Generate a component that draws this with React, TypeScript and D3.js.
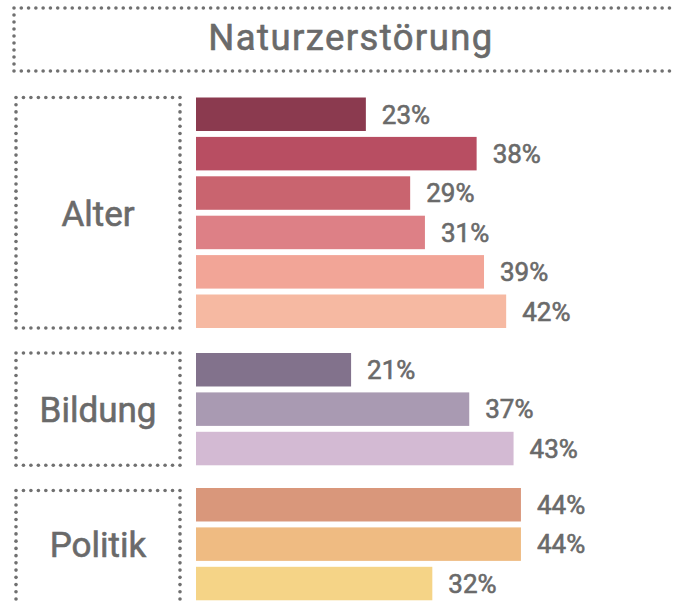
import React from "react";
import * as d3 from "d3";

const title = "Naturzerstörung";
const groups = ["Alter", "Bildung", "Politik"];
const alterValues = [23, 38, 29, 31, 39, 42];
const bildungValues = [21, 37, 43];
const politikValues = [44, 44, 32];
const alterColors = ["#8b3a4f", "#b84e62", "#c9646f", "#dd8086", "#f2a597", "#f6b9a2"];
const bildungColors = ["#82728c", "#a99ab2", "#d3bad3"];
const politikColors = ["#d9977b", "#efbb82", "#f5d487"];

const W = 674;
const H = 601;
const TEXT = "#6a6a6a";
const DOT = "#707070";
const FONT = "Roboto, 'Liberation Sans', sans-serif";
const GAP = 7.3;

function dotsAlong(a: number, b: number) {
  const n = Math.max(1, Math.round((b - a) / GAP));
  return d3.range(n + 1).map((i) => a + ((b - a) * i) / n);
}

function DottedRect({ x0, y0, x1, y1 }: { x0: number; y0: number; x1: number; y1: number }) {
  const xs = dotsAlong(x0, x1);
  const ys = dotsAlong(y0, y1);
  const pts: [number, number][] = [];
  xs.forEach((x) => {
    pts.push([x, y0]);
    pts.push([x, y1]);
  });
  ys.slice(1, -1).forEach((y) => {
    pts.push([x0, y]);
    pts.push([x1, y]);
  });
  return (
    <g>
      {pts.map(([cx, cy], i) => (
        <circle key={i} cx={cx} cy={cy} r={1.8} fill={DOT} />
      ))}
    </g>
  );
}

export default function App() {
  const x = d3.scaleLinear().domain([0, 50]).range([196, 196 + 369.25]);
  const groupData = [
    { name: groups[0], values: alterValues, colors: alterColors, top: 97.5 },
    { name: groups[1], values: bildungValues, colors: bildungColors, top: 353 },
    { name: groups[2], values: politikValues, colors: politikColors, top: 488 },
  ];
  const step = 39.4;
  const pad = 0.15;
  const heavy = { stroke: TEXT, strokeWidth: 0.6 };

  return (
    <svg width={W} height={H} style={{ position: "absolute", left: 0, top: 0, background: "#fff" }}>
      <DottedRect x0={14} y0={8} x1={684} y1={71} />
      <text
        x={351}
        y={50}
        textAnchor="middle"
        fill={TEXT}
        fontFamily={FONT}
        fontSize={36.5}
        letterSpacing={1.4}
        {...heavy}
      >
        {title}
      </text>
      {groupData.map((g) => {
        const n = g.values.length;
        const y = d3
          .scaleBand<number>()
          .domain(d3.range(n))
          .range([g.top, g.top + step * n - step * pad])
          .paddingInner(pad)
          .paddingOuter(0);
        const bottom = (y(n - 1) as number) + y.bandwidth();
        const boxTop = g.name === "Politik" ? g.top + 2.5 : g.top;
        const boxBottom = g.name === "Politik" ? bottom + 6 : bottom;
        return (
          <g key={g.name}>
            <DottedRect x0={16} y0={boxTop} x1={180} y1={boxBottom} />
            <text
              x={98}
              y={(g.top + bottom) / 2 + 12.8}
              textAnchor="middle"
              fill={TEXT}
              fontFamily={FONT}
              fontSize={35}
              {...heavy}
            >
              {g.name}
            </text>
            {g.values.map((v, i) => (
              <g key={i}>
                <rect
                  x={x(0)}
                  y={y(i) as number}
                  width={x(v) - x(0)}
                  height={y.bandwidth()}
                  fill={g.colors[i]}
                />
                <text
                  x={x(v) + 16}
                  y={(y(i) as number) + y.bandwidth() / 2 + 9.3}
                  fill={TEXT}
                  fontFamily={FONT}
                  fontSize={26}
                  {...heavy}
                >
                  {v}%
                </text>
              </g>
            ))}
          </g>
        );
      })}
    </svg>
  );
}
